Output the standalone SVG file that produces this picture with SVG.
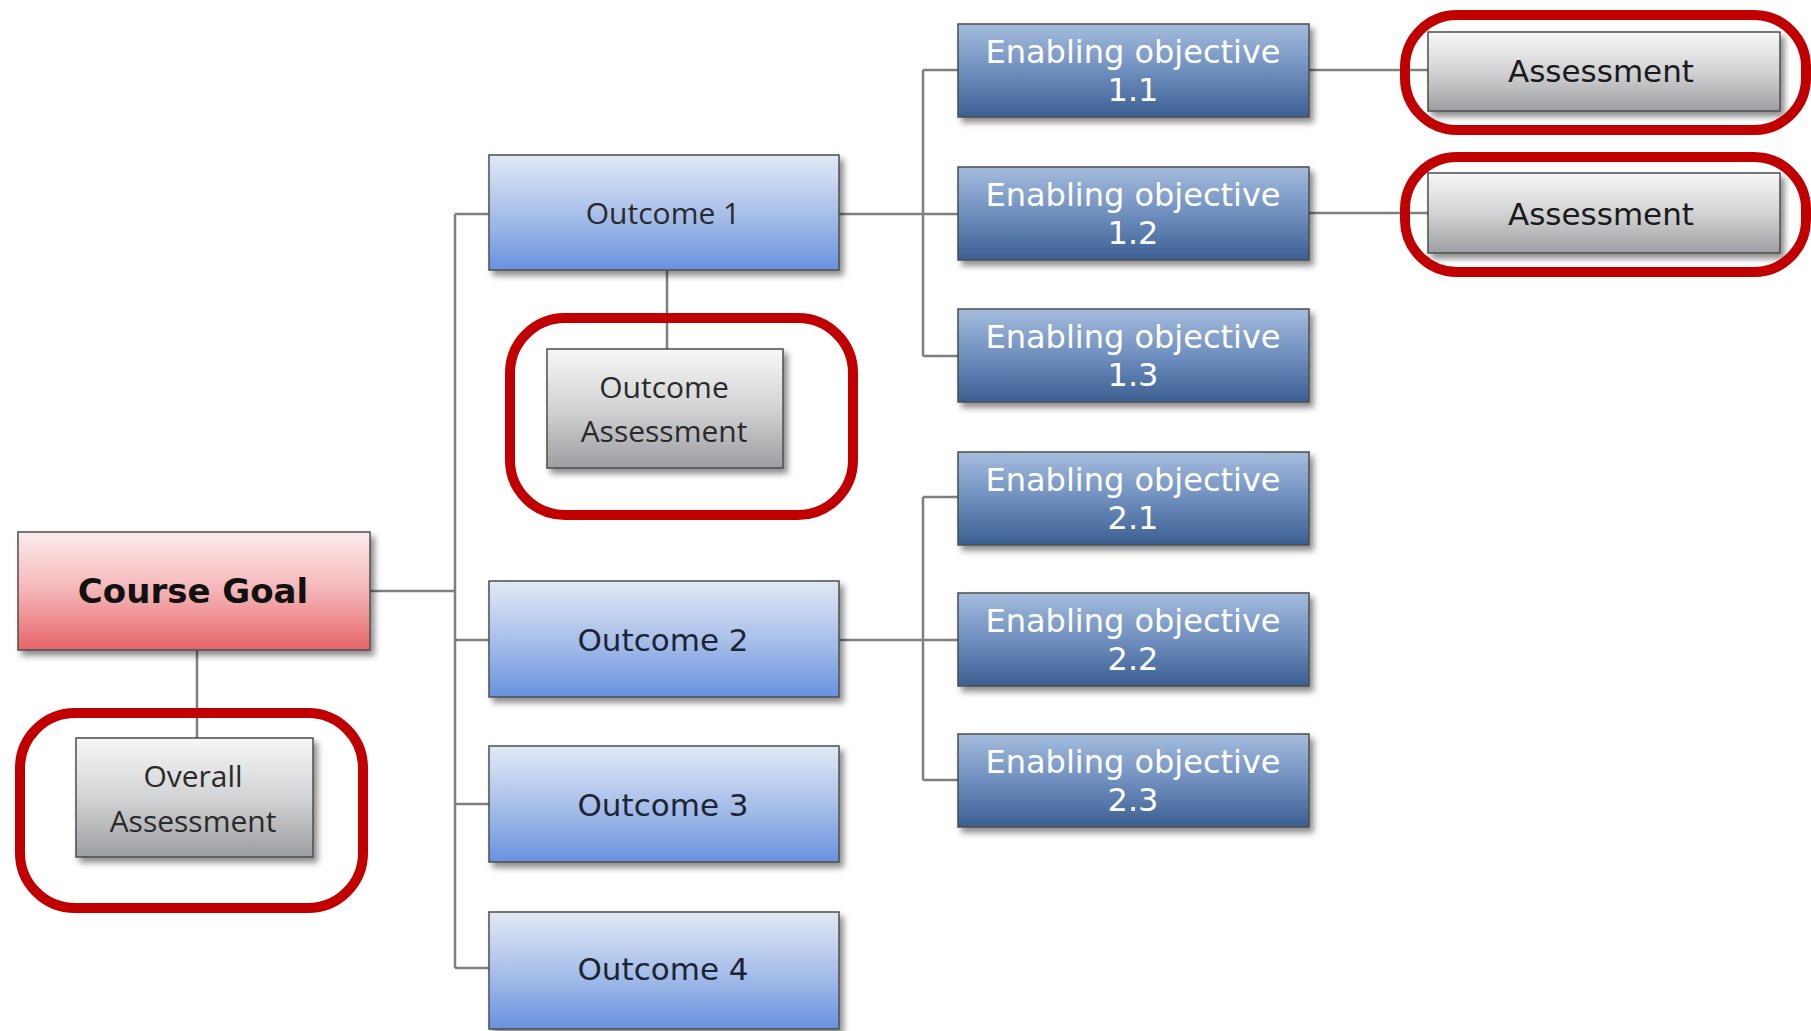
<svg xmlns="http://www.w3.org/2000/svg" width="1811" height="1031" viewBox="0 0 1811 1031">
<defs>
<linearGradient id="gRed" x1="0" y1="0" x2="0" y2="1"><stop offset="0" stop-color="#fdeced"/><stop offset="0.5" stop-color="#f4b4b6"/><stop offset="1" stop-color="#e66468"/></linearGradient>
<linearGradient id="gBlue" x1="0" y1="0" x2="0" y2="1"><stop offset="0" stop-color="#e2e9f6"/><stop offset="0.5" stop-color="#a9c0ea"/><stop offset="1" stop-color="#6892de"/></linearGradient>
<linearGradient id="gDark" x1="0" y1="0" x2="0" y2="1"><stop offset="0" stop-color="#a5bcdd"/><stop offset="0.5" stop-color="#6f8fbf"/><stop offset="1" stop-color="#3c5f92"/></linearGradient>
<linearGradient id="gGray" x1="0" y1="0" x2="0" y2="1"><stop offset="0" stop-color="#f7f7f7"/><stop offset="0.5" stop-color="#d2d3d5"/><stop offset="1" stop-color="#9c9ea1"/></linearGradient>
<filter id="sh" x="-10%" y="-10%" width="125%" height="140%"><feDropShadow dx="4" dy="5" stdDeviation="3" flood-color="#000" flood-opacity="0.45"/></filter>
</defs>
<style>
.box{stroke:#4d4d4d;stroke-width:1.5;filter:url(#sh)}
.red{fill:url(#gRed)}.blue{fill:url(#gBlue)}.dark{fill:url(#gDark)}.gray{fill:url(#gGray)}
.ring{fill:none;stroke:#c00000;stroke-width:10}
.con{stroke:#7f7f7f;stroke-width:2.5;fill:none}
.t{text-anchor:middle}
.goal{font-family:"DejaVu Sans",Verdana,sans-serif;font-weight:bold;font-size:34px;fill:#111}
.oc{font-family:"DejaVu Sans",Verdana,sans-serif;font-size:31px;fill:#1c2533}
.seg{font-family:"Open Sans","Noto Sans",sans-serif;font-size:30px;fill:#2a2a2a}
.eo{font-family:"DejaVu Sans",Verdana,sans-serif;font-size:32px;fill:#ffffff}
.as{font-family:"DejaVu Sans",Verdana,sans-serif;font-size:31px;fill:#1a1a1a}
</style>
<g id="connectors">
<path class="con" d="M370 591H455M455 214V968M455 214H489M455 640H489M455 804H489M455 968H489"/>
<path class="con" d="M197 650V738M667 270V349"/>
<path class="con" d="M839 214H958M923 70V356M923 70H958M923 356H958"/>
<path class="con" d="M839 640H958M923 497V780M923 497H958M923 780H958"/>
<path class="con" d="M1309 70H1428M1309 213H1428"/>
</g>
<g id="course-goal"><rect class="box red" x="18" y="532" width="352" height="118"/><text class="t goal" x="193" y="603">Course Goal</text></g>
<g id="overall-assessment"><rect class="box gray" x="76" y="738" width="237" height="119"/><text class="t seg" x="193" y="787">Overall</text><text class="t seg" x="193" y="832">Assessment</text></g>
<g id="outcome-1"><rect class="box blue" x="489" y="155" width="350" height="115"/><text class="t seg" x="663" y="224">Outcome 1</text></g>
<g id="outcome-assessment"><rect class="box gray" x="547" y="349" width="236" height="119"/><text class="t seg" x="664" y="398">Outcome</text><text class="t seg" x="664" y="442">Assessment</text></g>
<g id="outcome-2"><rect class="box blue" x="489" y="581" width="350" height="116"/><text class="t oc" x="663" y="651">Outcome 2</text></g>
<g id="outcome-3"><rect class="box blue" x="489" y="746" width="350" height="116"/><text class="t oc" x="663" y="816">Outcome 3</text></g>
<g id="outcome-4"><rect class="box blue" x="489" y="912" width="350" height="117"/><text class="t oc" x="663" y="980">Outcome 4</text></g>
<g id="eo-1-1"><rect class="box dark" x="958" y="24" width="351" height="93"/><text class="t eo" x="1133" y="63">Enabling objective</text><text class="t eo" x="1133" y="101">1.1</text></g>
<g id="eo-1-2"><rect class="box dark" x="958" y="167" width="351" height="93"/><text class="t eo" x="1133" y="206">Enabling objective</text><text class="t eo" x="1133" y="244">1.2</text></g>
<g id="eo-1-3"><rect class="box dark" x="958" y="309" width="351" height="93"/><text class="t eo" x="1133" y="348">Enabling objective</text><text class="t eo" x="1133" y="386">1.3</text></g>
<g id="eo-2-1"><rect class="box dark" x="958" y="452" width="351" height="93"/><text class="t eo" x="1133" y="491">Enabling objective</text><text class="t eo" x="1133" y="529">2.1</text></g>
<g id="eo-2-2"><rect class="box dark" x="958" y="593" width="351" height="93"/><text class="t eo" x="1133" y="632">Enabling objective</text><text class="t eo" x="1133" y="670">2.2</text></g>
<g id="eo-2-3"><rect class="box dark" x="958" y="734" width="351" height="93"/><text class="t eo" x="1133" y="773">Enabling objective</text><text class="t eo" x="1133" y="811">2.3</text></g>
<g id="assessment-1"><rect class="box gray" x="1428" y="32" width="352" height="79"/><text class="t as" x="1601" y="82">Assessment</text></g>
<g id="assessment-2"><rect class="box gray" x="1428" y="173" width="352" height="80"/><text class="t as" x="1601" y="225">Assessment</text></g>
<g id="highlights">
<rect class="ring" x="20" y="713" width="343" height="195" rx="55"/>
<rect class="ring" x="510" y="318" width="343" height="197" rx="55"/>
<rect class="ring" x="1405" y="15" width="401" height="115" rx="52"/>
<rect class="ring" x="1405" y="157" width="401" height="115" rx="52"/>
</g>
</svg>
